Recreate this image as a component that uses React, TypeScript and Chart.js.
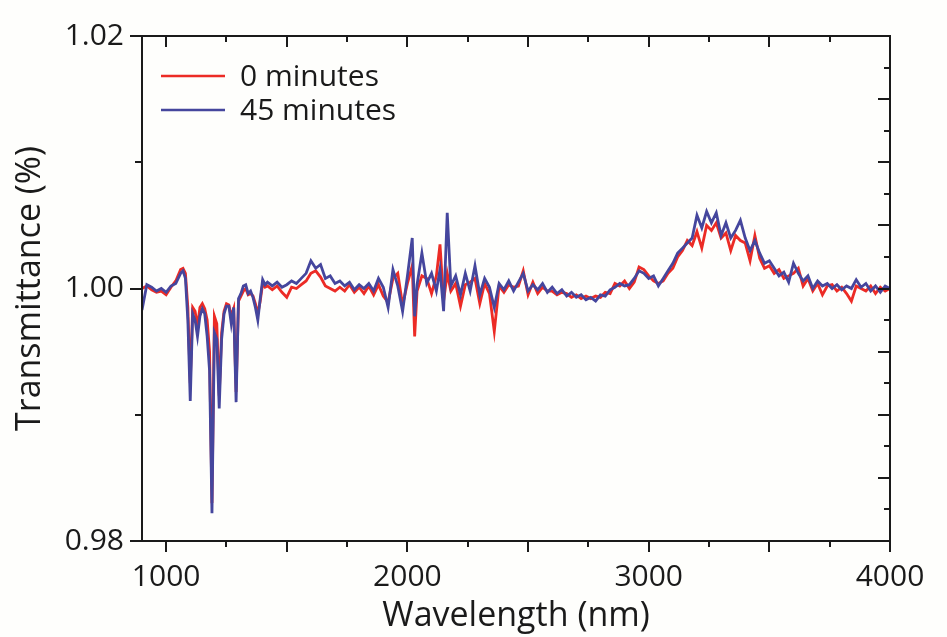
import React, { useEffect, useRef } from "react";
import { Chart, registerables } from "chart.js";

Chart.register(...registerables);

// Wavelength grid (nm)
const WAVELENGTH = [
  900, 920, 940, 960, 980, 1000, 1020, 1040, 1060,
  1070, 1080, 1090, 1100, 1110, 1120, 1130, 1140, 1150, 1160, 1170, 1180, 1190, 1200,
  1210, 1220, 1230, 1240, 1250, 1260, 1270, 1280, 1290, 1300, 1310, 1320, 1330, 1340,
  1350, 1360, 1370, 1380, 1390, 1400, 1410, 1420,
  1440, 1460, 1480, 1500, 1520, 1540, 1560, 1580, 1600, 1620, 1640, 1660, 1680, 1700,
  1720, 1740, 1760, 1780, 1800, 1820, 1840, 1860, 1880, 1900, 1920, 1940, 1960, 1980,
  2000, 2020, 2030, 2040, 2060, 2080, 2100, 2120, 2135, 2150, 2165, 2180, 2200, 2220,
  2240, 2260, 2280, 2300, 2320, 2340, 2360, 2380, 2400, 2420, 2440, 2460, 2480, 2500,
  2520, 2540, 2560, 2580, 2600, 2620, 2640, 2660, 2680, 2700, 2720, 2740, 2760, 2780,
  2800, 2820, 2840, 2860, 2880, 2900, 2920, 2940, 2960, 2980, 3000, 3020, 3040, 3060,
  3080, 3100, 3120, 3140, 3160, 3180, 3200, 3220, 3240, 3260, 3280, 3300, 3320, 3340,
  3360, 3380, 3400, 3420, 3440, 3460, 3480, 3500, 3520, 3540, 3560, 3580, 3600, 3620,
  3640, 3660, 3680, 3700, 3720, 3740, 3760, 3780, 3800, 3820, 3840, 3860, 3880, 3900,
  3920, 3940, 3960, 3980, 4000,
];

// Transmittance, 0 minutes
const T_0MIN = [
  1.0000, 1.0002, 0.9999, 0.9997, 0.9998, 0.9995, 1.0001, 1.0006, 1.0015,
  1.0016, 1.0012, 0.9985, 0.9925, 0.9985, 0.9982, 0.9970, 0.9985, 0.9988, 0.9984, 0.9975, 0.9950, 0.9830, 0.9978,
  0.9972, 0.9915, 0.9965, 0.9982, 0.9988, 0.9987, 0.9978, 0.9984, 0.9918, 0.9990, 0.9994, 0.9998, 1.0000, 0.9995,
  0.9996, 0.9994, 0.9988, 0.9980, 0.9990, 1.0004, 1.0001, 1.0002,
  0.9999, 1.0002, 0.9997, 0.9993, 1.0001, 1.0000, 1.0003, 1.0006, 1.0012, 1.0014, 1.0009, 1.0002, 1.0000, 0.9998,
  1.0001, 0.9998, 1.0003, 0.9997, 1.0001, 0.9996, 1.0002, 0.9995, 1.0003, 0.9994, 0.9989, 1.0008, 1.0012, 0.9987,
  1.0004, 1.0018, 0.9962, 0.9998, 1.0010, 1.0008, 0.9996, 1.0010, 1.0035, 0.9990, 1.0012, 0.9998, 1.0004, 0.9986,
  1.0003, 1.0005, 1.0008, 0.9988, 1.0004, 0.9996, 0.9966, 1.0002, 0.9997, 1.0003, 1.0001, 1.0002, 1.0014, 0.9995,
  1.0005, 0.9996, 1.0001, 0.9998, 0.9998, 0.9995, 0.9997, 0.9996, 0.9993, 0.9995, 0.9992, 0.9994, 0.9992, 0.9994,
  0.9993, 0.9997, 0.9996, 1.0004, 1.0002, 1.0006, 1.0000, 1.0005, 1.0017, 1.0015, 1.0010, 1.0006, 1.0004, 1.0006,
  1.0012, 1.0016, 1.0025, 1.0030, 1.0038, 1.0034, 1.0045, 1.0032, 1.0050, 1.0046, 1.0052, 1.0040, 1.0044, 1.0030,
  1.0042, 1.0038, 1.0036, 1.0022, 1.0042, 1.0024, 1.0016, 1.0018, 1.0012, 1.0015, 1.0008, 1.0010, 1.0012, 1.0016,
  1.0002, 1.0008, 0.9998, 1.0004, 0.9995, 1.0002, 1.0003, 0.9998, 1.0001, 0.9996, 0.9990, 1.0002, 1.0000, 0.9998,
  1.0002, 0.9996, 1.0001, 0.9998, 1.0000,
];

// Transmittance, 45 minutes
const T_45MIN = [
  0.9983, 1.0003, 1.0001, 0.9998, 1.0000, 0.9997, 1.0002, 1.0004, 1.0012,
  1.0014, 1.0008, 0.9975, 0.9911, 0.9980, 0.9975, 0.9962, 0.9978, 0.9984, 0.9980, 0.9962, 0.9935, 0.9822, 0.9965,
  0.9960, 0.9905, 0.9960, 0.9980, 0.9986, 0.9986, 0.9972, 0.9985, 0.9910, 0.9992, 0.9996, 1.0002, 1.0003, 0.9996,
  0.9998, 0.9993, 0.9985, 0.9975, 0.9992, 1.0007, 1.0003, 1.0005,
  1.0002, 1.0005, 1.0001, 1.0003, 1.0006, 1.0004, 1.0008, 1.0012, 1.0022, 1.0016, 1.0019, 1.0008, 1.0010, 1.0004,
  1.0006, 1.0002, 1.0005, 0.9999, 1.0003, 1.0000, 1.0004, 0.9998, 1.0008, 1.0001, 0.9985, 1.0015, 1.0002, 0.9982,
  1.0010, 1.0040, 0.9978, 1.0003, 1.0028, 1.0004, 1.0012, 0.9998, 1.0015, 0.9982, 1.0060, 1.0002, 1.0010, 0.9995,
  1.0012, 0.9998, 1.0018, 0.9995, 1.0008, 1.0001, 0.9985, 1.0004, 0.9999, 1.0006, 0.9998, 1.0005, 1.0012, 0.9998,
  1.0003, 0.9999, 1.0004, 0.9997, 1.0001, 0.9996, 0.9999, 0.9994, 0.9997, 0.9993, 0.9995, 0.9991, 0.9993, 0.9990,
  0.9995, 0.9994, 0.9999, 1.0001, 1.0004, 1.0002, 1.0003, 1.0008, 1.0014, 1.0012, 1.0008, 1.0010, 1.0002, 1.0008,
  1.0014, 1.0020, 1.0028, 1.0032, 1.0036, 1.0040, 1.0058, 1.0048, 1.0061, 1.0052, 1.0060, 1.0042, 1.0052, 1.0040,
  1.0046, 1.0054, 1.0040, 1.0030, 1.0038, 1.0028, 1.0020, 1.0022, 1.0016, 1.0010, 1.0013, 1.0005, 1.0020, 1.0012,
  1.0006, 1.0010, 1.0000, 1.0006, 1.0002, 1.0004, 1.0000, 1.0003, 0.9999, 1.0002, 1.0000, 1.0007, 1.0001, 1.0004,
  0.9998, 1.0002, 0.9997, 1.0002, 1.0000,
];

const SERIES_NAMES = ["0 minutes", "45 minutes"];
const SERIES_COLORS = ["#ec2b25", "#45469d"];
const X_TICK_LABELS = [1000, 2000, 3000, 4000];
const Y_TICK_LABELS = [0.98, 1.0, 1.02];
const X_RANGE = [900, 4000];
const Y_RANGE = [0.98, 1.02];

const FONT = "'Open Sans', sans-serif";

const framePlugin = {
  id: "frame",
  afterDatasetsDraw(chart: any) {
    const { ctx, chartArea: a, scales } = chart;
    const xs = scales.x;
    const ys = scales.y;
    ctx.save();
    ctx.strokeStyle = "#1a1a1a";
    ctx.lineWidth = 2;
    ctx.strokeRect(a.left, a.top, a.right - a.left, a.bottom - a.top);
    ctx.beginPath();
    // bottom ticks (outward) and top ticks (inward) every 250 nm
    for (let v = 1000; v <= 4000; v += 250) {
      const px = Math.round(xs.getPixelForValue(v));
      const len = v % 500 === 0 ? 11 : 6;
      ctx.moveTo(px, a.bottom);
      ctx.lineTo(px, a.bottom + len);
      ctx.moveTo(px, a.top);
      ctx.lineTo(px, a.top + len);
    }
    // left ticks (outward) every 0.01
    for (let i = 0; i <= 4; i++) {
      const v = 0.98 + i * 0.01;
      const py = Math.round(ys.getPixelForValue(v));
      const len = i % 2 === 0 ? 12 : 7;
      ctx.moveTo(a.left, py);
      ctx.lineTo(a.left - len, py);
    }
    // right ticks (inward) every 0.0025
    for (let i = 0; i <= 16; i++) {
      const v = 0.98 + i * 0.0025;
      const py = Math.round(ys.getPixelForValue(v));
      const len = i % 2 === 0 ? 12 : 6;
      ctx.moveTo(a.right, py);
      ctx.lineTo(a.right - len, py);
    }
    ctx.stroke();

    // legend
    const items = chart.data.datasets;
    [0, 1].forEach((idx, row) => {
      const ds = items[idx];
      const y = a.top + 40 + row * 34;
      ctx.strokeStyle = ds.borderColor;
      ctx.lineWidth = 2.5;
      ctx.beginPath();
      ctx.moveTo(a.left + 19, y);
      ctx.lineTo(a.left + 83, y);
      ctx.stroke();
      ctx.fillStyle = "#1a1a1a";
      ctx.font = `30px ${FONT}`;
      ctx.textBaseline = "middle";
      ctx.textAlign = "left";
      ctx.fillText(ds.label, a.left + 98, y + 1);
    });
    ctx.restore();
  },
};

const bgPlugin = {
  id: "bg",
  beforeDraw(chart: any) {
    const { ctx, width, height } = chart;
    ctx.save();
    ctx.fillStyle = "#fefefc";
    ctx.fillRect(0, 0, width, height);
    ctx.restore();
  },
};

export default function App() {
  const ref = useRef<HTMLCanvasElement | null>(null);

  useEffect(() => {
    document.body.style.margin = "0";
    document.body.style.background = "#fefefc";
    const canvas = ref.current;
    if (!canvas) return;

    const makeData = (vals: number[]) => WAVELENGTH.map((x, i) => ({ x, y: vals[i] }));

    const chart = new Chart(canvas, {
      type: "line",
      data: {
        datasets: [
          {
            label: SERIES_NAMES[0],
            data: makeData(T_0MIN),
            borderColor: SERIES_COLORS[0],
            borderWidth: 2.8,
            pointRadius: 0,
            tension: 0,
            order: 1,
          },
          {
            label: SERIES_NAMES[1],
            data: makeData(T_45MIN),
            borderColor: SERIES_COLORS[1],
            borderWidth: 2.8,
            pointRadius: 0,
            tension: 0,
            order: 0,
          },
        ],
      },
      options: {
        responsive: false,
        animation: false,
        parsing: false,
        layout: { padding: { top: 31, right: 57, left: 0, bottom: 0 } },
        plugins: {
          legend: { display: false },
          tooltip: { enabled: false },
        },
        scales: {
          x: {
            type: "linear",
            min: X_RANGE[0],
            max: X_RANGE[1],
            grid: { display: false, drawTicks: false },
            border: { display: false },
            afterBuildTicks: (s: any) => {
              s.ticks = X_TICK_LABELS.map((v) => ({ value: v }));
            },
            afterFit: (s: any) => {
              s.height = 96;
            },
            ticks: {
              color: "#1a1a1a",
              font: { family: FONT, size: 30 },
              padding: 18,
              maxRotation: 0,
              autoSkip: false,
              callback: (v: any) => String(v),
            },
            title: {
              display: true,
              text: "Wavelength (nm)",
              color: "#1a1a1a",
              font: { family: FONT, size: 34 },
              padding: { top: -6, bottom: 0 },
            },
          },
          y: {
            type: "linear",
            min: Y_RANGE[0],
            max: Y_RANGE[1],
            grid: { display: false, drawTicks: false },
            border: { display: false },
            afterBuildTicks: (s: any) => {
              s.ticks = Y_TICK_LABELS.map((v) => ({ value: v }));
            },
            afterFit: (s: any) => {
              s.width = 142;
            },
            ticks: {
              color: "#1a1a1a",
              font: { family: FONT, size: 30 },
              padding: 18,
              autoSkip: false,
              callback: (v: any) => Number(v).toFixed(2),
            },
            title: {
              display: true,
              text: "Transmittance (%)",
              color: "#1a1a1a",
              font: { family: FONT, size: 34 },
              padding: { top: 10, bottom: 0 },
            },
          },
        },
      },
      plugins: [bgPlugin, framePlugin],
    });

    return () => chart.destroy();
  }, []);

  return <canvas ref={ref} width={947} height={637} style={{ display: "block" }} />;
}
